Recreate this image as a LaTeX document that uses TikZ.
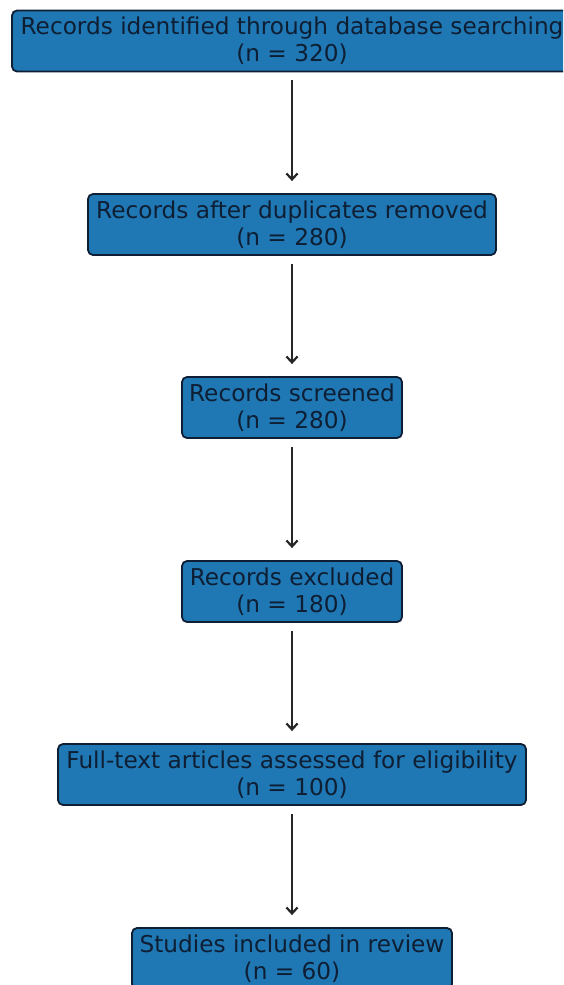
\documentclass[tikz,border=0pt]{standalone}
\usepackage{fontspec}
\setmainfont{DejaVu Sans}
\usetikzlibrary{arrows.meta}
\definecolor{boxblue}{HTML}{1F77B4}
\definecolor{inkdark}{HTML}{0E1E33}

\begin{document}
\begin{tikzpicture}[x=1pt,y=-1pt,
    stagebox/.style={draw=inkdark,fill=boxblue,line width=1.8pt,rounded corners=5pt,
        align=center,minimum height=61pt,inner xsep=6.5pt,inner ysep=4pt,
        text=inkdark,font=\fontsize{23.2}{27}\selectfont},
    flowarrow/.style={draw=black!85,line width=2pt,
        -{Straight Barb[length=6pt,width=11pt,line width=2.2pt]},
        shorten <=8pt,shorten >=12pt}]
    \clip (0,0) rectangle (563,985);
    \useasboundingbox (0,0) rectangle (563,985);

    % Define the stages
    \node[stagebox,minimum width=560pt] (ident) at (292,41) {Records identified through database searching\\(n = 320)};
    \node[stagebox,minimum width=408pt] (dedup) at (292,224.5) {Records after duplicates removed\\(n = 280)};
    \node[stagebox,minimum width=220pt] (screen) at (292,407.5) {Records screened\\(n = 280)};
    \node[stagebox,minimum width=220pt] (excl) at (292,591.5) {Records excluded\\(n = 180)};
    \node[stagebox,minimum width=468pt] (full) at (292,774.5) {Full-text articles assessed for eligibility\\(n = 100)};
    \node[stagebox,minimum width=320pt] (incl) at (292,958.5) {Studies included in review\\(n = 60)};

    % Draw the arrows
    \draw[flowarrow] (ident) -- (dedup);
    \draw[flowarrow] (dedup) -- (screen);
    \draw[flowarrow] (screen) -- (excl);
    \draw[flowarrow] (excl) -- (full);
    \draw[flowarrow] (full) -- (incl);
\end{tikzpicture}
\end{document}
